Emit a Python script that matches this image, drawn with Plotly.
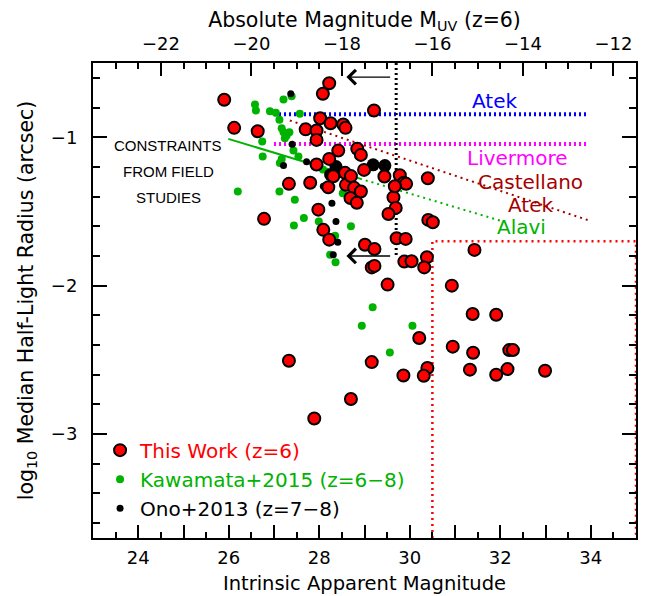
import plotly.graph_objects as go

# This Work (z=6): intrinsic apparent magnitude, log10 half-light radius
work_mag = [25.90, 26.12, 26.64, 26.78, 27.33, 27.33, 28.22, 28.08, 29.21, 28.02,
            28.25, 28.53, 28.58, 27.70, 27.94, 27.94, 28.42, 28.84, 28.92, 28.22,
            27.94, 28.99, 29.44, 27.80, 28.20, 28.59, 28.57, 28.70, 28.31, 28.77,
            28.92, 28.69, 28.83, 29.64, 29.69, 29.53, 27.98, 28.09, 28.22, 29.78,
            29.87, 29.92, 29.67, 30.40, 30.41, 30.51, 29.71, 29.91, 29.01, 29.22,
            31.43, 30.38, 29.88, 30.04, 30.32, 29.16, 29.22, 29.51, 30.93, 31.39,
            31.91, 30.21, 30.95, 31.40, 32.20, 32.28, 29.16, 30.39, 29.86, 30.31,
            31.33, 31.91, 32.16, 32.99, 28.70, 27.89]
work_rad = [-0.748, -0.937, -0.960, -1.550, -1.314, -2.506, -0.636, -0.707, -0.820, -0.872,
            -0.906, -0.914, -0.937, -0.947, -0.955, -1.018, -1.090, -1.078, -1.119, -1.146,
            -1.184, -1.220, -1.265, -1.307, -1.337, -1.321, -1.240, -1.262, -1.263, -1.341,
            -1.366, -1.409, -1.442, -1.405, -1.476, -1.517, -1.488, -1.624, -1.690, -1.256,
            -1.307, -1.314, -1.330, -1.276, -1.557, -1.573, -1.681, -1.685, -1.724, -1.753,
            -1.759, -1.809, -1.838, -1.836, -1.877, -1.877, -1.867, -1.993, -2.000, -2.191,
            -2.196, -2.353, -2.411, -2.452, -2.434, -2.434, -2.515, -2.555, -2.605, -2.607,
            -2.566, -2.600, -2.562, -2.573, -2.764, -2.895]

# Kawamata+2015 (z=6-8)
kaw_mag = [26.58, 26.60, 26.91, 27.04, 27.12, 27.21, 27.39, 27.57, 27.17, 27.21,
           27.28, 27.24, 27.34, 26.74, 26.75, 27.43, 27.54, 27.17, 27.13, 27.12,
           27.46, 26.20, 27.93, 28.08, 28.52, 27.66, 27.99, 28.70, 27.44, 28.35,
           28.24, 28.36, 29.18, 28.94, 30.06, 29.56, 26.78]
kaw_rad = [-0.780, -0.820, -0.825, -0.835, -0.883, -0.746, -0.724, -0.842, -0.939, -0.966,
           -0.989, -1.007, -0.966, -1.029, -1.130, -1.090, -1.130, -1.146, -1.173, -1.366,
           -1.422, -1.366, -1.000, -1.218, -1.378, -1.544, -1.568, -1.600, -1.595, -1.663,
           -1.791, -1.843, -2.146, -2.270, -2.270, -2.450, -1.562]

# Ono+2013 (z=7-8)
ono_mag = [27.37, 27.40, 27.21, 27.72, 27.28, 28.09, 28.28, 28.37, 28.41, 28.31]
ono_rad = [-0.707, -1.047, -1.191, -1.166, -1.314, -1.330, -1.444, -1.568, -1.708, -1.791]
# stacked (large black) points
stack_mag = [28.37, 28.25, 29.19, 29.45]
stack_rad = [-1.198, -1.252, -1.186, -1.191]

# relations from field studies
atek_x, atek_y = [27.0, 33.9], [-0.845, -0.845]
liver_x, liver_y = [27.0, 33.9], [-1.045, -1.045]
cast_x, cast_y = [27.35, 33.97], [-0.887, -1.562]
alavi_solid_x, alavi_solid_y = [25.99, 28.90], [-1.011, -1.279]
alavi_dot_x, alavi_dot_y = [28.90, 32.0], [-1.279, -1.562]
box_x, box_y = [30.5, 30.5, 35.0, 35.0], [-3.7, -1.7, -1.7, -3.7]
limit_x, limit_y = [29.7, 29.7], [-0.5, -1.80]
arrow_y = [-0.595, -1.80]
arrow_head, arrow_tail = 28.6, 29.6

x_ticks = [24, 25, 26, 27, 28, 29, 30, 31, 32, 33, 34]
x_ticktext = ["24", "", "26", "", "28", "", "30", "", "32", "", "34"]
dist_mod = 46.5

FONT = "DejaVu Sans"
RED = "#ff0000"
GREEN = "#00b300"
DARKRED = "#a50000"

fig = go.Figure()

def add_line(x, y, color, width, dash):
    fig.add_trace(go.Scatter(x=x, y=y, mode="lines", showlegend=False, hoverinfo="skip",
                             line=dict(color=color, width=width, dash=dash)))

add_line(atek_x, atek_y, "#0000ff", 4, "2px,3px")
add_line(liver_x, liver_y, "#ff00ff", 4, "2px,3px")
add_line(cast_x, cast_y, DARKRED, 2, "2px,4px")
add_line(alavi_solid_x, alavi_solid_y, GREEN, 2, "solid")
add_line(alavi_dot_x, alavi_dot_y, GREEN, 2, "2px,4px")
add_line(box_x, box_y, RED, 2.5, "2px,4px")
add_line(limit_x, limit_y, "black", 3, "2px,3px")

fig.add_trace(go.Scatter(x=kaw_mag, y=kaw_rad, mode="markers", legendrank=2,
                         name='<span style="color:#00b300">Kawamata+2015 (z=6−8)</span>',
                         marker=dict(color=GREEN, size=8)))
fig.add_trace(go.Scatter(x=ono_mag, y=ono_rad, mode="markers", legendrank=3,
                         name="Ono+2013 (z=7−8)",
                         marker=dict(color="black", size=7)))
fig.add_trace(go.Scatter(x=stack_mag, y=stack_rad, mode="markers", showlegend=False,
                         marker=dict(color="black", size=13)))
fig.add_trace(go.Scatter(x=work_mag, y=work_rad, mode="markers", legendrank=1,
                         name='<span style="color:#ff0000">This Work (z=6)</span>',
                         marker=dict(color=RED, size=12, line=dict(color="black", width=2))))
# dummy trace for the top axis
fig.add_trace(go.Scatter(x=[None], y=[None], xaxis="x2", showlegend=False))

labels = [
    ("Atek", 31.88, -0.757, "#0000ff"),
    ("Livermore", 32.38, -1.139, "#ff00ff"),
    ("Castellano", 32.67, -1.303, DARKRED),
    ("Atek", 32.67, -1.454, DARKRED),
    ("Alavi", 32.47, -1.607, GREEN),
]
for txt, lx, ly, col in labels:
    fig.add_annotation(x=lx, y=ly, text=txt, showarrow=False,
                       font=dict(family=FONT, size=20, color=col))

for txt, ly in [("CONSTRAINTS", -1.057), ("FROM FIELD", -1.232), ("STUDIES", -1.407)]:
    fig.add_annotation(x=24.66, y=ly, text=txt, showarrow=False,
                       font=dict(family="Liberation Sans", size=15, color="black"))

# arrows marking the completeness limit
for ay in arrow_y:
    fig.add_annotation(x=arrow_head, y=ay, ax=arrow_tail, ay=ay, axref="x", ayref="y", text="",
                       showarrow=True, arrowhead=4, arrowsize=2, arrowwidth=1.4,
                       arrowcolor="black")

tickfont = dict(family=FONT, size=18, color="black")

fig.update_layout(
    width=660, height=596,
    margin=dict(l=85, r=32, t=55, b=66),
    paper_bgcolor="white", plot_bgcolor="white",
    font=dict(family=FONT, color="black"),
    xaxis=dict(range=[23, 35], tickvals=x_ticks, ticktext=x_ticktext, automargin=False,
               ticks="inside", ticklen=13, tickwidth=1.5, tickcolor="black",
               minor=dict(dtick=0.5, tick0=23, ticks="inside", ticklen=6, tickwidth=1.5, tickcolor="black"),
               showline=True, linecolor="black", linewidth=2, showgrid=False, zeroline=False,
               tickfont=tickfont, ticklabelstandoff=2,
               title=dict(text="Intrinsic Apparent Magnitude",
                          font=dict(family=FONT, size=19.5, color="black"), standoff=10)),
    xaxis2=dict(range=[23 - dist_mod, 35 - dist_mod], overlaying="x", side="top", anchor="y",
                automargin=False,
                tick0=-22, dtick=2, ticks="inside", ticklen=13, tickwidth=1.5, tickcolor="black",
                minor=dict(dtick=0.5, tick0=-22, ticks="inside", ticklen=6, tickwidth=1.5, tickcolor="black"),
                showline=True, linecolor="black", linewidth=2, showgrid=False, zeroline=False,
                tickfont=tickfont, ticklabelstandoff=4,
                title=dict(text="Absolute Magnitude M<sub>UV</sub> (z=6)",
                           font=dict(family=FONT, size=20.5, color="black"), standoff=1)),
    yaxis=dict(range=[-3.7, -0.5], tickvals=[-3, -2, -1], automargin=False,
               ticks="inside", ticklen=14, tickwidth=1.5, tickcolor="black",
               minor=dict(dtick=0.2, tick0=-1, ticks="inside", ticklen=7, tickwidth=1.5, tickcolor="black"),
               showline=True, mirror="ticks", linecolor="black", linewidth=2,
               showgrid=False, zeroline=False, tickfont=tickfont, ticklabelstandoff=10,
               title=dict(text="log<sub>10</sub> Median Half-Light Radius (arcsec)",
                          font=dict(family=FONT, size=20.5, color="black"), standoff=12)),
    legend=dict(x=0.013, y=0.226, xanchor="left", yanchor="top", bgcolor="rgba(0,0,0,0)",
                font=dict(family=FONT, size=20, color="black"), itemwidth=30, tracegroupgap=0),
)

fig.write_html("out.html")
